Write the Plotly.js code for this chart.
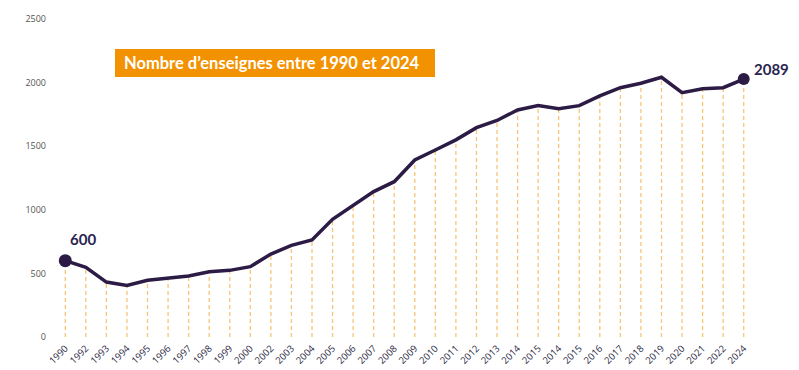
<!DOCTYPE html>
<html>
<head>
<meta charset="utf-8">
<script src="https://cdn.plot.ly/plotly-3.0.1.min.js"></script>
<style>html,body{margin:0;padding:0;background:#fff;}#chart{width:799px;height:370px;}</style>
</head>
<body>
<div id="chart"></div>
<script>
var yearLabels = ["1990","1992","1993","1994","1995","1996","1997","1998","1999","2000","2002","2003","2004","2005","2006","2007","2008","2009","2010","2011","2012","2013","2014","2015","2014","2015","2016","2017","2018","2019","2020","2021","2022","2024"];
var values = [600,548,432,406,446,464,480,513,524,553,652,720,763,925,1030,1143,1221,1392,1470,1550,1646,1702,1785,1820,1795,1819,1895,1960,1995,2042,1921,1952,1960,2028];
var firstLabel = "600";
var lastLabel = "2089";
var titleText = "Nombre d’enseignes entre 1990 et 2024";
var yTicks = [0,500,1000,1500,2000,2500];

var idx = yearLabels.map(function(_, i){ return i; });

var dropX = [], dropY = [];
idx.forEach(function(i){ dropX.push(i, i, null); dropY.push(0, values[i], null); });

var n = values.length;
var traces = [
  {x: dropX, y: dropY, mode: 'lines', type: 'scatter', hoverinfo: 'skip',
   line: {color: '#f6c675', width: 1.3, dash: '4px,3px'}},
  {x: idx, y: values, mode: 'lines', type: 'scatter',
   line: {color: '#2b1b45', width: 3.5}},
  {x: [idx[0], idx[n-1]], y: [values[0], values[n-1]], mode: 'markers', type: 'scatter',
   marker: {color: '#2b1b45', size: [13, 12], opacity: 1, line: {width: 0}}}
];

var layout = {
  width: 799, height: 370,
  margin: {l: 55, r: 45, t: 19, b: 33},
  paper_bgcolor: '#fff', plot_bgcolor: '#fff',
  showlegend: false,
  xaxis: {
    range: [-0.5, 33.5], tickvals: idx, ticktext: yearLabels, tickangle: -45,
    showgrid: false, zeroline: false, showline: false, ticks: '',
    ticklabelstandoff: 3,
    tickfont: {family: 'Open Sans, sans-serif', size: 9.5, color: '#2d2a45'}
  },
  yaxis: {
    range: [0, 2500], tickvals: yTicks, ticktext: yTicks.map(String),
    showgrid: false, zeroline: false, showline: false, ticks: '',
    ticklabelstandoff: 8,
    tickfont: {family: 'Open Sans, sans-serif', size: 9, color: '#555'}
  },
  shapes: [
    {type: 'rect', xref: 'paper', yref: 'paper', layer: 'below',
     x0: (115-55)/699, x1: (435-55)/699, y0: (337-77)/318, y1: (337-49)/318,
     fillcolor: '#f39200', line: {width: 0}}
  ],
  annotations: [
    {xref: 'paper', yref: 'paper', x: (272-55)/699, y: (337-63)/318,
     xanchor: 'center', yanchor: 'middle',
     text: '<b>' + titleText + '</b>', showarrow: false,
     font: {family: 'Lato, sans-serif', size: 16.5, color: '#fff'}},
    {x: idx[0], y: values[0], xref: 'x', yref: 'y', text: '<b>' + firstLabel + '</b>',
     showarrow: false, xshift: 18, yshift: 22,
     font: {family: 'Lato, sans-serif', size: 15, color: '#2b2550'}},
    {x: idx[n-1], y: values[n-1], xref: 'x', yref: 'y', text: '<b>' + lastLabel + '</b>',
     showarrow: false, xshift: 28, yshift: 10,
     font: {family: 'Lato, sans-serif', size: 15, color: '#2b2550'}}
  ]
};

Plotly.newPlot('chart', traces, layout, {displayModeBar: false, staticPlot: true});
</script>
</body>
</html>
